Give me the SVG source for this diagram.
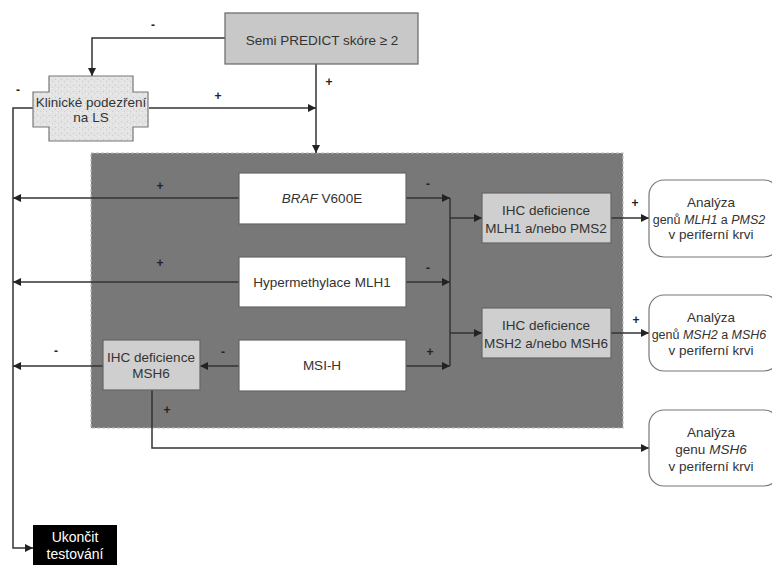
<svg xmlns="http://www.w3.org/2000/svg" width="772" height="565" viewBox="0 0 772 565">
<defs>
<marker id="ah" viewBox="0 0 10 10" refX="10" refY="5" markerWidth="8" markerHeight="8" markerUnits="userSpaceOnUse" orient="auto">
<path d="M0,0 L10,5 L0,10 z" fill="#222"/>
</marker>
<pattern id="speckle" width="6" height="6" patternUnits="userSpaceOnUse">
<rect width="6" height="6" fill="#e4e4e4"/>
<rect x="1" y="1" width="1" height="1" fill="#c4c4c4"/>
<rect x="4" y="3" width="1" height="1" fill="#cccccc"/>
<rect x="2" y="4" width="1" height="1" fill="#f4f4f4"/>
</pattern>
<style>
text{font-family:"Liberation Sans",Arial,sans-serif;font-size:13.5px;fill:#333;text-anchor:middle}
.lbl{font-size:12px;fill:#222;font-weight:bold}
.sm{font-size:12.5px}
.c{fill:none;stroke:#333;stroke-width:1.5}
.ca{fill:none;stroke:#333;stroke-width:1.5;marker-end:url(#ah)}
.grey{fill:#cfcfcf;stroke:#666;stroke-width:1.2}
.white{fill:#fff;stroke:#666;stroke-width:1.2}
.round{fill:#fff;stroke:#777;stroke-width:1.2}
.w{fill:#fff;font-size:14px}
</style>
</defs>
<rect width="772" height="565" fill="#fff"/>

<g id="region">
<rect x="91" y="153" width="532" height="275" fill="#787878" stroke="#bdbdbd" stroke-width="1.2" stroke-dasharray="3,2"/>
</g>

<g id="connectors">
<polyline class="ca" points="225,38 92,38 92,76"/>
<polyline class="ca" points="316,64 316,153"/>
<polyline class="ca" points="149,108 316,108"/>
<polyline class="ca" points="33,108 13,108 13,548 33,548"/>
<polyline class="ca" points="239,198 13,198"/>
<polyline class="ca" points="239,282 13,282"/>
<polyline class="ca" points="239,366 200,366"/>
<polyline class="ca" points="103,366 13,366"/>
<polyline class="ca" points="152,390 152,448 649,448"/>
<polyline class="ca" points="406,198 450,198"/>
<polyline class="ca" points="406,282 450,282"/>
<polyline class="ca" points="406,366 450,366"/>
<polyline class="c" points="450,198 450,366"/>
<polyline class="ca" points="450,218 482,218"/>
<polyline class="ca" points="450,333 482,333"/>
<polyline class="ca" points="611,218 649,218"/>
<polyline class="ca" points="611,333 649,333"/>
<text class="lbl" x="153" y="29">-</text>
<text class="lbl" x="329" y="86">+</text>
<text class="lbl" x="218" y="100">+</text>
<text class="lbl" x="18" y="94">-</text>
<text class="lbl" x="160" y="190">+</text>
<text class="lbl" x="160" y="267">+</text>
<text class="lbl" x="223" y="356">-</text>
<text class="lbl" x="56" y="355">-</text>
<text class="lbl" x="167" y="414">+</text>
<text class="lbl" x="428" y="188">-</text>
<text class="lbl" x="428" y="272">-</text>
<text class="lbl" x="430" y="356">+</text>
<text class="lbl" x="635" y="207">+</text>
<text class="lbl" x="636" y="324">+</text>
</g>

<g id="semi">
<rect class="grey" x="225" y="13" width="193" height="51" style="fill:#c8c8c8"/>
<text x="322" y="45">Semi PREDICT skóre ≥ 2</text>
</g>

<g id="klinicke">
<path d="M49,76 H133 V92 H148 V127 H133 V141 H49 V127 H33 V92 H49 Z" fill="url(#speckle)" stroke="#777" stroke-width="1.2"/>
<text x="91" y="107">Klinické podezření</text>
<text x="91" y="122">na LS</text>
</g>

<g id="braf">
<rect class="white" x="239" y="173" width="167" height="51"/>
<text x="322" y="203"><tspan font-style="italic">BRAF</tspan> V600E</text>
</g>

<g id="hyper">
<rect class="white" x="239" y="257" width="167" height="50"/>
<text x="322" y="287">Hypermethylace MLH1</text>
</g>

<g id="msih">
<rect class="white" x="239" y="340" width="167" height="51"/>
<text x="322" y="370">MSI-H</text>
</g>

<g id="ihc-msh6">
<rect class="grey" x="103" y="340" width="97" height="50"/>
<text x="151" y="362">IHC deficience</text>
<text x="151" y="378">MSH6</text>
</g>

<g id="ihc-mlh1">
<rect class="grey" x="482" y="193" width="129" height="50"/>
<text x="546" y="215">IHC deficience</text>
<text x="546" y="233">MLH1 a/nebo PMS2</text>
</g>

<g id="ihc-msh2">
<rect class="grey" x="482" y="308" width="129" height="50"/>
<text x="546" y="330">IHC deficience</text>
<text x="546" y="348">MSH2 a/nebo MSH6</text>
</g>

<g id="analyza1">
<rect class="round" x="649" y="180" width="130" height="77" rx="15"/>
<text x="711" y="207">Analýza</text>
<text class="sm" x="709" y="224">genů <tspan font-style="italic">MLH1</tspan> a <tspan font-style="italic">PMS2</tspan></text>
<text x="711" y="239">v periferní krvi</text>
</g>

<g id="analyza2">
<rect class="round" x="649" y="295" width="130" height="76" rx="15"/>
<text x="711" y="322">Analýza</text>
<text class="sm" x="709" y="339">genů <tspan font-style="italic">MSH2</tspan> a <tspan font-style="italic">MSH6</tspan></text>
<text x="711" y="355">v periferní krvi</text>
</g>

<g id="analyza3">
<rect class="round" x="649" y="410" width="130" height="76" rx="15"/>
<text x="711" y="437">Analýza</text>
<text x="711" y="454">genu <tspan font-style="italic">MSH6</tspan></text>
<text x="711" y="471">v periferní krvi</text>
</g>

<g id="ukoncit">
<rect x="33" y="525" width="84" height="45" fill="#000"/>
<text class="w" x="75" y="542" style="fill:#fff">Ukončit</text>
<text class="w" x="75" y="559" style="fill:#fff">testování</text>
</g>
</svg>
